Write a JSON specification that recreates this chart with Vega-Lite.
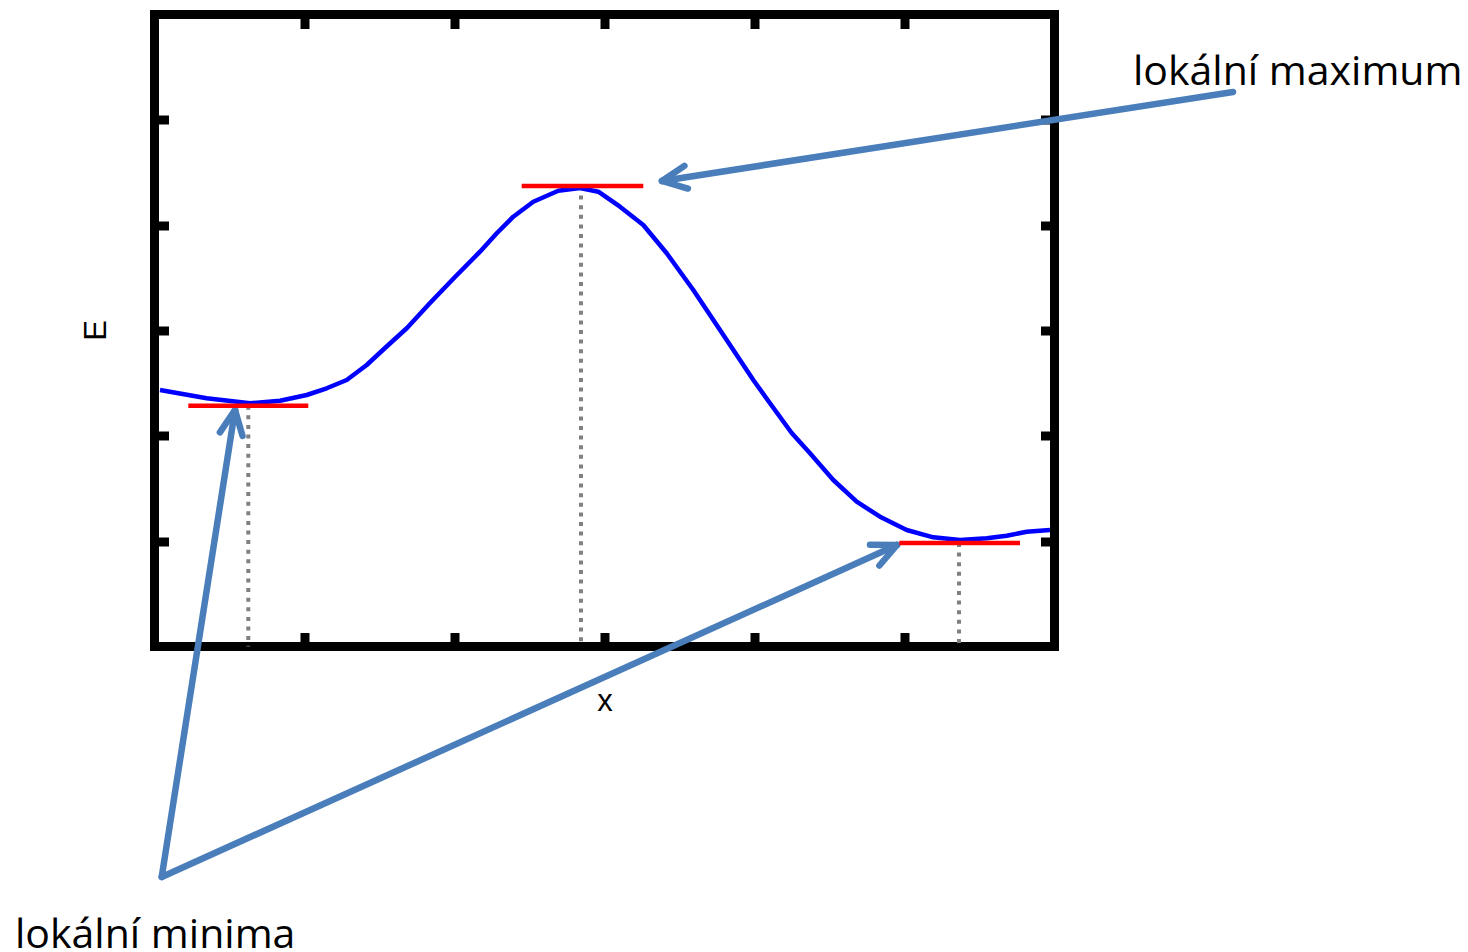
{
  "$schema": "https://vega.github.io/schema/vega-lite/v6.json",
  "width": 900,
  "height": 632,
  "autosize": "none",
  "padding": {"left": 154.5, "top": 14.5, "right": 413.5, "bottom": 305.5},
  "background": "white",
  "config": {
    "view": {"stroke": "black", "strokeWidth": 9},
    "axis": {
      "domain": false,
      "grid": false,
      "labels": false,
      "ticks": true,
      "tickSize": -14,
      "tickWidth": 9,
      "tickColor": "black",
      "tickCap": "butt",
      "titleFont": "Liberation Sans",
      "titleFontSize": 31,
      "titleFontWeight": "normal",
      "titleColor": "black"
    }
  },
  "datasets": {
    "curve": [
      {"x": 0.0367, "E": 2.4351}, {"x": 0.348, "E": 2.3563}, {"x": 0.6367, "E": 2.3089},
      {"x": 0.8367, "E": 2.3335}, {"x": 1.0147, "E": 2.3877}, {"x": 1.148, "E": 2.4513},
      {"x": 1.2813, "E": 2.5301}, {"x": 1.4147, "E": 2.6725}, {"x": 1.5367, "E": 2.8339},
      {"x": 1.6833, "E": 3.0237}, {"x": 1.8367, "E": 3.2611}, {"x": 2.0033, "E": 3.5079},
      {"x": 2.17, "E": 3.7481}, {"x": 2.2833, "E": 3.9256}, {"x": 2.392, "E": 4.0804},
      {"x": 2.5253, "E": 4.2228}, {"x": 2.692, "E": 4.3272}, {"x": 2.8367, "E": 4.3528},
      {"x": 2.9587, "E": 4.3177}, {"x": 3.1033, "E": 4.1753}, {"x": 3.2587, "E": 4.0016},
      {"x": 3.4147, "E": 3.7329}, {"x": 3.592, "E": 3.3845}, {"x": 3.8147, "E": 2.9098},
      {"x": 3.992, "E": 2.5301}, {"x": 4.1033, "E": 2.3089}, {"x": 4.248, "E": 2.0269},
      {"x": 4.37, "E": 1.8342}, {"x": 4.5253, "E": 1.5807}, {"x": 4.6813, "E": 1.3747},
      {"x": 4.8367, "E": 1.2323}, {"x": 5.0147, "E": 1.106}, {"x": 5.192, "E": 1.0367},
      {"x": 5.37, "E": 1.0111}, {"x": 5.548, "E": 1.0272}, {"x": 5.6813, "E": 1.0519},
      {"x": 5.8147, "E": 1.0899}, {"x": 5.97, "E": 1.106}
    ],
    "extrema": [
      {"kind": "minimum", "x": 0.6253, "from": 0.2253, "to": 1.0253, "E": 2.286},
      {"kind": "maximum", "x": 2.8433, "from": 2.448, "to": 3.2587, "E": 4.372},
      {"kind": "minimum", "x": 5.3633, "from": 4.9653, "to": 5.77, "E": 0.9826}
    ],
    "arrows": [
      {"arrow": "max", "part": "shaft", "x": 7.19, "y": 5.2643, "x2": 3.3833, "y2": 4.4193},
      {"arrow": "max", "part": "head", "x": 3.3833, "y": 4.4193, "x2": 3.5327, "y2": 4.5627},
      {"arrow": "max", "part": "head", "x": 3.3833, "y": 4.4193, "x2": 3.556, "y2": 4.348},
      {"arrow": "min1", "part": "shaft", "x": 0.048, "y": -2.1883, "x2": 0.5367, "y2": 2.2453},
      {"arrow": "min1", "part": "head", "x": 0.5367, "y": 2.2453, "x2": 0.5867, "y2": 1.9994},
      {"arrow": "min1", "part": "head", "x": 0.5367, "y": 2.2453, "x2": 0.436, "y2": 2.0326},
      {"arrow": "min2", "part": "shaft", "x": 0.048, "y": -2.1883, "x2": 4.95, "y2": 0.9636},
      {"arrow": "min2", "part": "head", "x": 4.95, "y": 0.9636, "x2": 4.8327, "y2": 0.769},
      {"arrow": "min2", "part": "head", "x": 4.95, "y": 0.9636, "x2": 4.77, "y2": 0.9665}
    ],
    "labels": [
      {"text": "lokální maximum", "x": 6.5233, "y": 5.3307},
      {"text": "lokální minima", "x": -0.93, "y": -2.8623}
    ]
  },
  "layer": [
    {
      "layer": [
        {
          "data": {"name": "extrema"},
          "mark": {"type": "rule", "color": "#808080", "strokeWidth": 4, "strokeDash": [4, 5.6], "strokeCap": "butt"},
          "encoding": {
            "x": {"field": "x", "type": "quantitative", "scale": {"domain": [0, 6], "nice": false, "zero": false},
                  "axis": {"orient": "bottom", "values": [1, 2, 3, 4, 5], "title": "x", "titleX": 450, "titleY": 64, "titleBaseline": "alphabetic", "titleAlign": "center"}},
            "y": {"field": "E", "type": "quantitative", "scale": {"domain": [0, 6], "nice": false, "zero": false},
                  "axis": {"orient": "left", "values": [1, 2, 3, 4, 5], "title": "E", "titleX": -49.5, "titleY": 315.5, "titleAngle": -90, "titleBaseline": "alphabetic", "titleAlign": "center"}},
            "y2": {"datum": 0}
          }
        },
        {
          "data": {"name": "curve"},
          "mark": {"type": "line", "color": "#0000ff", "strokeWidth": 4.5, "strokeJoin": "round"},
          "encoding": {
            "x": {"field": "x", "type": "quantitative",
                  "axis": {"orient": "bottom", "values": [1, 2, 3, 4, 5], "title": "x", "titleX": 450, "titleY": 64, "titleBaseline": "alphabetic", "titleAlign": "center"}},
            "y": {"field": "E", "type": "quantitative",
                  "axis": {"orient": "left", "values": [1, 2, 3, 4, 5], "title": "E", "titleX": -49.5, "titleY": 315.5, "titleAngle": -90, "titleBaseline": "alphabetic", "titleAlign": "center"}}
          }
        },
        {
          "data": {"name": "arrows"},
          "mark": {"type": "rule", "color": "#4a7ebb", "strokeWidth": 6.5, "strokeCap": "round"},
          "encoding": {
            "x": {"field": "x", "type": "quantitative",
                  "axis": {"orient": "bottom", "values": [1, 2, 3, 4, 5], "title": "x", "titleX": 450, "titleY": 64, "titleBaseline": "alphabetic", "titleAlign": "center"}},
            "y": {"field": "y", "type": "quantitative",
                  "axis": {"orient": "left", "values": [1, 2, 3, 4, 5], "title": "E", "titleX": -49.5, "titleY": 315.5, "titleAngle": -90, "titleBaseline": "alphabetic", "titleAlign": "center"}},
            "x2": {"field": "x2"},
            "y2": {"field": "y2"},
            "detail": {"field": "arrow"}
          }
        },
        {
          "data": {"name": "labels"},
          "mark": {"type": "text", "font": "Open Sans", "fontSize": 41, "color": "black", "align": "left", "baseline": "alphabetic"},
          "encoding": {
            "x": {"field": "x", "type": "quantitative",
                  "axis": {"orient": "bottom", "values": [1, 2, 3, 4, 5], "title": "x", "titleX": 450, "titleY": 64, "titleBaseline": "alphabetic", "titleAlign": "center"}},
            "y": {"field": "y", "type": "quantitative",
                  "axis": {"orient": "left", "values": [1, 2, 3, 4, 5], "title": "E", "titleX": -49.5, "titleY": 315.5, "titleAngle": -90, "titleBaseline": "alphabetic", "titleAlign": "center"}},
            "text": {"field": "text"}
          }
        }
      ]
    },
    {
      "data": {"name": "extrema"},
      "mark": {"type": "rule", "color": "#ff0000", "strokeWidth": 4.5, "strokeCap": "butt"},
      "encoding": {
        "x": {"field": "from", "type": "quantitative", "axis": {"orient": "top", "values": [1, 2, 3, 4, 5], "title": null}},
        "x2": {"field": "to"},
        "y": {"field": "E", "type": "quantitative", "axis": {"orient": "right", "values": [1, 2, 3, 4, 5], "title": null}}
      }
    }
  ],
  "resolve": {"axis": {"x": "independent", "y": "independent"}}
}
